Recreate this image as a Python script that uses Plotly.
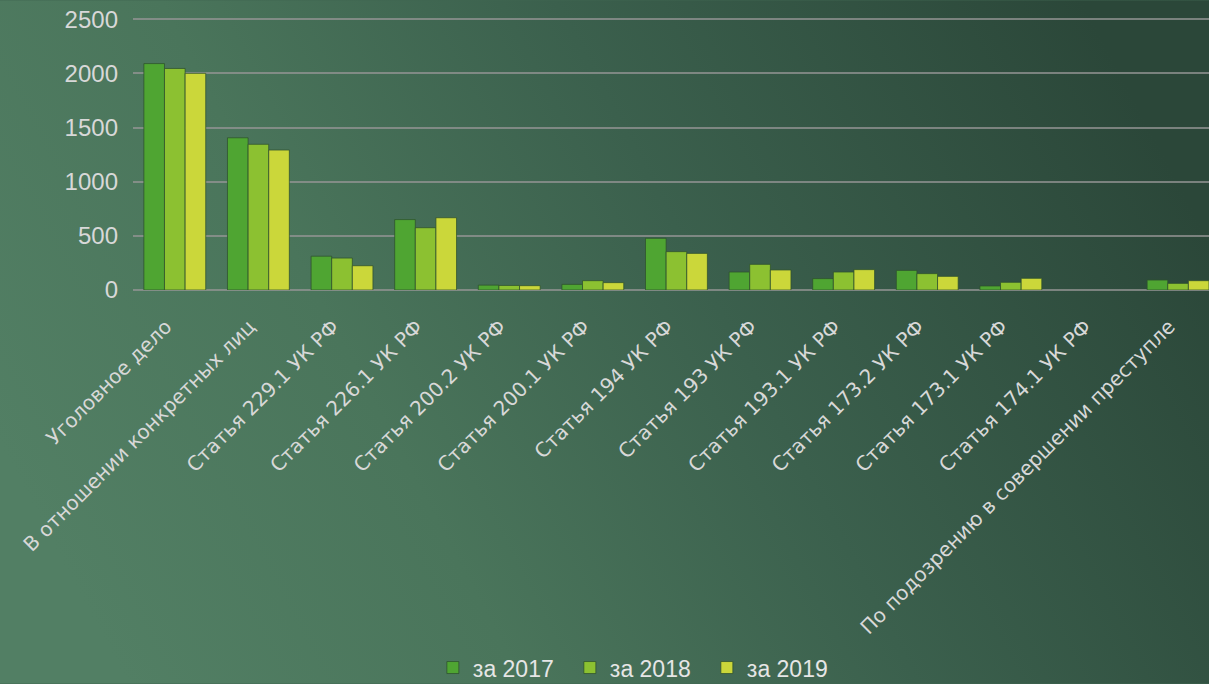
import base64
import plotly.graph_objects as go

categories = [
    "Уголовное дело",
    "В отношении конкретных лиц",
    "Статья 229.1 УК РФ",
    "Статья 226.1 УК РФ",
    "Статья 200.2 УК РФ",
    "Статья 200.1 УК РФ",
    "Статья 194 УК РФ",
    "Статья 193 УК РФ",
    "Статья 193.1 УК РФ",
    "Статья 173.2 УК РФ",
    "Статья 173.1 УК РФ",
    "Статья 174.1 УК РФ",
    "По подозрению в совершении преступле",
]
values_2017 = [2090, 1405, 312, 650, 45, 52, 477, 166, 105, 181, 37, 0, 92]
values_2018 = [2045, 1345, 295, 575, 42, 86, 354, 237, 166, 151, 71, 0, 61]
values_2019 = [2000, 1292, 224, 667, 40, 68, 338, 185, 188, 126, 108, 0, 86]
series_names = ["за 2017", "за 2018", "за 2019"]
series_colors = ["#4fa532", "#8cc131", "#cbd73a"]
y_ticks = [0, 500, 1000, 1500, 2000, 2500]

W, H = 1209, 684
y_top = 2520
px_per_unit = 271 / 2500
ml, mr, mb = 133, 0, 394
mt = 19 - (y_top - 2500) * px_per_unit
pw, ph = W - ml - mr, H - mt - mb

svg = f'''<svg xmlns="http://www.w3.org/2000/svg" width="{W}" height="{H}" viewBox="0 0 {W} {H}" preserveAspectRatio="none">
<defs><linearGradient id="g" x1="0" y1="0.65" x2="1" y2="0.35">
<stop offset="0" stop-color="#527f64"/>
<stop offset="0.3" stop-color="#4a755b"/>
<stop offset="0.6" stop-color="#3b604d"/>
<stop offset="1" stop-color="#2b4739"/>
</linearGradient></defs>
<rect width="{W}" height="{H}" fill="url(#g)"/></svg>'''
bg_src = "data:image/svg+xml;base64," + base64.b64encode(svg.encode()).decode()

fig = go.Figure()
for name, vals, col in zip(series_names, [values_2017, values_2018, values_2019], series_colors):
    fig.add_trace(go.Bar(
        x=categories, y=vals, name=name,
        marker=dict(color=col, line=dict(color="rgba(45,80,45,0.75)",
                                         width=[0 if v == 0 else 1 for v in vals])),
    ))

fig.add_layout_image(dict(
    source=bg_src, xref="paper", yref="paper",
    x=-ml / pw, y=1 + mt / ph, sizex=W / pw, sizey=H / ph,
    xanchor="left", yanchor="top", sizing="stretch", layer="below",
))

fig.update_layout(
    width=W, height=H,
    margin=dict(l=ml, r=mr, t=mt, b=mb, pad=0, autoexpand=False),
    paper_bgcolor="#3f6550", plot_bgcolor="rgba(0,0,0,0)",
    barmode="group", bargap=0.26, bargroupgap=0,
    font=dict(family="Liberation Sans, Arial, sans-serif", color="#dcdcdc"),
    showlegend=True,
    legend=dict(
        orientation="h", xref="container", yref="container",
        x=0.528, xanchor="center", y=0.024, yanchor="middle",
        font=dict(size=23, color="#e6e6e6"), bgcolor="rgba(0,0,0,0)",
        itemwidth=30, entrywidth=92, traceorder="normal",
    ),
    xaxis=dict(
        range=[-0.5, 12.37], tickangle=-45, showgrid=False, showline=False,
        zeroline=False,
        tickfont=dict(family="DejaVu Sans, sans-serif", size=20, color="#d8d8d8"),
        ticks="", ticklabelstandoff=20, ticklabelshift=-9, automargin=False,
    ),
    yaxis=dict(
        range=[0, y_top], tickvals=y_ticks, showgrid=True,
        gridcolor="rgba(150,150,150,0.75)", gridwidth=2,
        zeroline=True, zerolinecolor="rgba(150,150,150,0.75)", zerolinewidth=2,
        showline=False, tickfont=dict(size=24, color="#d8d8d8"),
        ticks="", ticklabelstandoff=14, automargin=False,
    ),
)

fig.write_html("out.html", config={"displayModeBar": False},
               post_script="document.body.style.margin='0';document.body.style.overflow='hidden';")
